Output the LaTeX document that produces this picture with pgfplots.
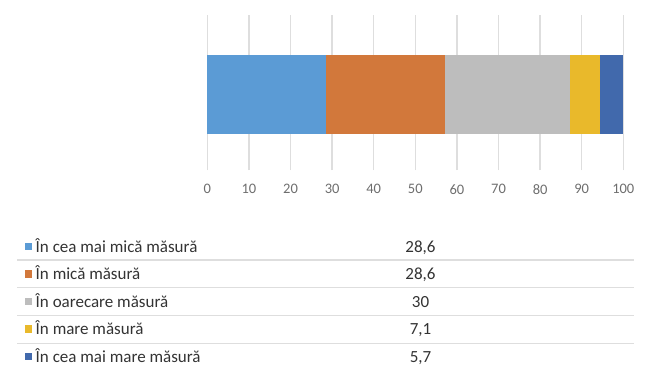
\documentclass[border=0pt]{standalone}
\usepackage{pgfplots}
\pgfplotsset{compat=1.18}
\usepackage{fontspec}
\setmainfont{Carlito}
\definecolor{c1}{HTML}{5B9BD5}
\definecolor{c2}{HTML}{D2783B}
\definecolor{c3}{HTML}{BDBDBD}
\definecolor{c4}{HTML}{E9B92B}
\definecolor{c5}{HTML}{4169AC}
\definecolor{gridc}{HTML}{DEDEDE}
\definecolor{tickc}{HTML}{6E6E6E}
\definecolor{txtc}{HTML}{333333}
\begin{document}
\begin{tikzpicture}[x=1pt,y=1pt]
\path[use as bounding box] (0,0) rectangle (650,-386);
\begin{axis}[
  at={(207.3pt,-170pt)}, anchor=south west,
  scale only axis, width=416pt, height=155pt,
  xmin=0, xmax=100, ymin=0, ymax=1,
  xbar stacked, bar width=79pt,
  axis line style={draw=none},
  ytick=\empty,
  xtick={0,10,...,100},
  xmajorgrids, major grid style={gridc, line width=1.5pt},
  tick style={draw=none},
  /pgf/number format/assume math mode=true,
  xticklabel style={anchor=center, yshift=-19.3pt, font=\fontsize{14.5}{16}\selectfont, text=tickc},
  clip=false,
]
\addplot[fill=c1, draw=none] coordinates {(28.6,0.49)};
\addplot[fill=c2, draw=none] coordinates {(28.6,0.49)};
\addplot[fill=c3, draw=none] coordinates {(30,0.49)};
\addplot[fill=c4, draw=none] coordinates {(7.1,0.49)};
\addplot[fill=c5, draw=none] coordinates {(5.7,0.49)};
\end{axis}
% data table
\foreach \y in {260,287.7,315.7,343.3}{
  \draw[gridc, line width=1.5pt] (17,-\y) -- (634,-\y);
}
\foreach \b/\c/\t/\v in {252/c1/În cea mai mică măsură/{28,6}, 279.5/c2/În mică măsură/{28,6}, 307/c3/În oarecare măsură/30, 334.5/c4/În mare măsură/{7,1}, 362/c5/În cea mai mare măsură/{5,7}}{
  \fill[\c] (25,-\b+2) rectangle (32.3,-\b+9.3);
  \node[anchor=base west, inner sep=0, text=txtc, font=\fontsize{17}{19}\selectfont] at (35.5,-\b) {\t};
  \node[anchor=base, inner sep=0, text=txtc, font=\fontsize{17}{19}\selectfont] at (420.5,-\b) {\v};
}
\end{tikzpicture}
\end{document}
